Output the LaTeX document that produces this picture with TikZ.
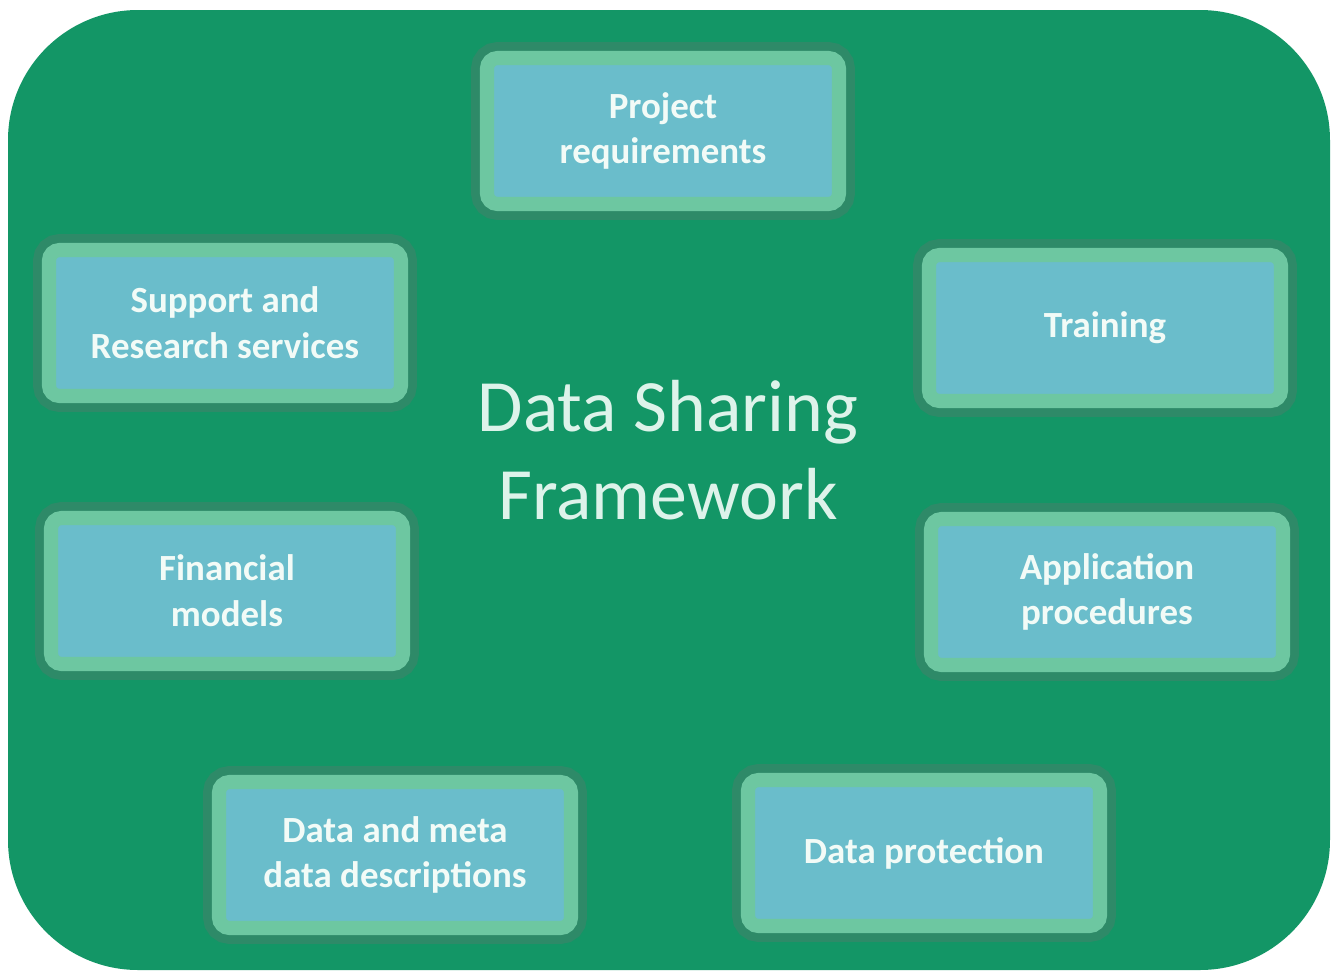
\documentclass[tikz,border=0pt]{standalone}
\usepackage{fontspec}
\setmainfont{Carlito}
\usepackage{tikz}
\usetikzlibrary{positioning}
\definecolor{verdeFondo}{HTML}{139666}
\definecolor{verdeBorde}{HTML}{6DC7A1}
\definecolor{verdeSombra}{HTML}{2E8A68}
\definecolor{azulCaja}{HTML}{6ABDCB}
\definecolor{textoClaro}{HTML}{F2FBF7}
\definecolor{tituloClaro}{HTML}{DDF3EA}

\begin{document}
\begin{tikzpicture}[
    caja/.style={rectangle, rounded corners=3pt, fill=azulCaja, draw=verdeBorde, line width=4pt,
                 preaction={draw=verdeSombra, line width=9pt},
                 minimum width=3.52cm, minimum height=1.46cm, align=center,
                 text=textoClaro, font=\fontsize{10.5}{13}\selectfont\bfseries},
    titulo/.style={align=center, text=tituloClaro, font=\fontsize{21}{25}\selectfont}
  ]
  \useasboundingbox (0,0) rectangle (13.38,-9.75);
  \fill[verdeFondo, rounded corners=1.3cm] (0.08,-0.10) rectangle (13.30,-9.70);

  \node[caja] (requisitos) at (6.63,-1.31) {Project\\ requirements};
  \node[caja] (soporte) at (2.25,-3.23) {Support and\\ Research services};
  \node[caja] (formacion) at (11.05,-3.28) {Training};
  \node[caja] (financiero) at (2.27,-5.91) {Financial\\ models};
  \node[caja] (solicitud) at (11.07,-5.92) {Application\\ procedures};
  \node[caja] (metadatos) at (3.95,-8.55) {Data and meta\\ data descriptions};
  \node[caja] (proteccion) at (9.24,-8.53) {Data protection};

  \node[titulo] (marco) at (6.68,-4.50) {Data Sharing\\ Framework};
\end{tikzpicture}
\end{document}
